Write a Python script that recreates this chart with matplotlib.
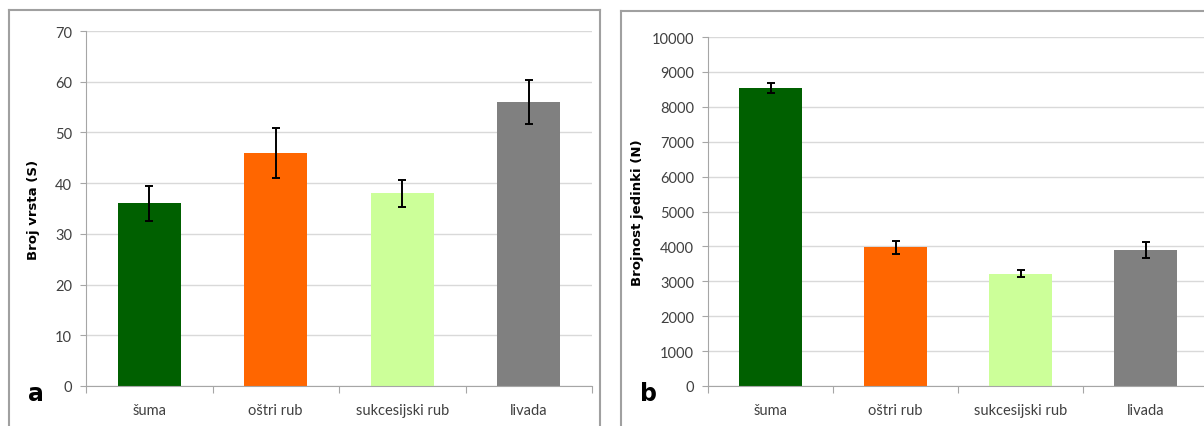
import matplotlib.pyplot as plt
from matplotlib.lines import Line2D

categories = ['šuma', 'oštri rub', 'sukcesijski rub', 'livada']
colors = ['#006000', '#ff6600', '#ccff99', '#808080']

# a - broj vrsta
species = [36, 46, 38, 56]
species_err = [3.4, 4.9, 2.7, 4.3]

# b - brojnost jedinki
abundance = [8530, 3970, 3220, 3900]
abundance_err = [140, 190, 100, 220]

plt.rcParams['font.family'] = ['Lato', 'DejaVu Sans']

W, H = 1204, 427
fig = plt.figure(figsize=(W / 100, H / 100), dpi=100)


def panel(rect, values, errs, ymax, ystep, ylabel, letter, letter_xy, ylabel_x):
    ax = fig.add_axes(rect)
    x = range(len(categories))
    ax.bar(x, values, width=0.5, color=colors, zorder=2)
    ax.errorbar(x, values, yerr=errs, fmt='none', ecolor='black',
                elinewidth=1.4, capsize=3, capthick=1.4, zorder=3)
    ax.set_xlim(-0.5, 3.5)
    ax.set_ylim(0, ymax)
    ax.set_yticks(range(0, ymax + 1, ystep))
    ax.yaxis.grid(True, color='#d9d9d9', linewidth=1)
    ax.set_axisbelow(True)
    for s in ['top', 'right']:
        ax.spines[s].set_visible(False)
    for s in ['left', 'bottom']:
        ax.spines[s].set_color('#a6a6a6')
    # crtice izmedu kategorija, nazivi u sredini
    ax.set_xticks([-0.5, 0.5, 1.5, 2.5, 3.5])
    ax.set_xticklabels([])
    ax.set_xticks(list(x), minor=True)
    ax.set_xticklabels(categories, minor=True)
    ax.tick_params(axis='x', which='major', direction='out', length=5, color='#a6a6a6')
    ax.tick_params(axis='x', which='minor', length=0, pad=12, labelsize=10.5,
                   labelcolor='#404040')
    ax.tick_params(axis='y', direction='out', length=4, color='#a6a6a6',
                   labelsize=10.5, labelcolor='#404040', pad=6)
    ax.set_ylabel(ylabel, fontsize=9.5, fontweight='bold', family=['DejaVu Sans'])
    ax.yaxis.set_label_coords((ylabel_x - rect[0] * W) / (rect[2] * W), 0.5)
    fig.text(letter_xy[0] / W, 1 - letter_xy[1] / H, letter, fontsize=17,
             fontweight='bold', family=['DejaVu Sans'], ha='left', va='center')
    return ax


ax1 = panel([86 / W, 1 - 387 / H, 506 / W, 355 / H], species, species_err,
            70, 10, 'Broj vrsta (S)', 'a', (28, 394), 40)
ax2 = panel([708 / W, 1 - 387 / H, 500 / W, 349 / H], abundance, abundance_err,
            10000, 1000, 'Brojnost jedinki (N)', 'b', (640, 394), 644)

# okviri oko panela
frame = '#a0a0a0'
for xs, ys in [([9, 600], [11, 11]), ([9, 9], [11, 427]), ([600, 600], [11, 427]),
               ([621, 1204], [12, 12]), ([621, 621], [12, 427])]:
    fig.add_artist(Line2D([v / W for v in xs], [1 - v / H for v in ys],
                          color=frame, linewidth=1.5))

fig.savefig('out.png', dpi=100)
